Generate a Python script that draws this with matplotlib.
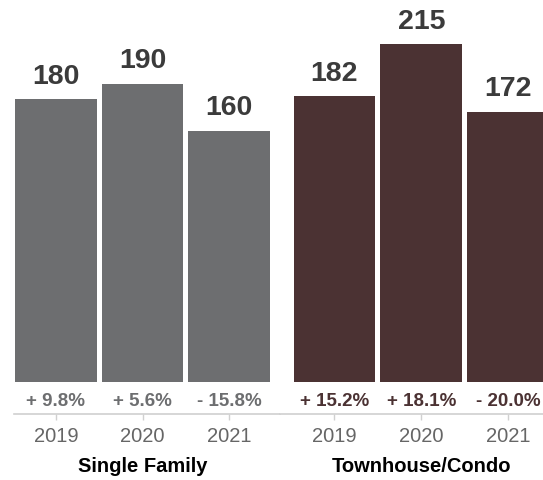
import matplotlib
matplotlib.use("Agg")
from matplotlib import pyplot as plt

plt.rcParams['font.family'] = ['Liberation Sans', 'DejaVu Sans']

years = ["2019", "2020", "2021"]
groups = ["Single Family", "Townhouse/Condo"]
single_family = [180, 190, 160]
townhouse = [182, 215, 172]
single_change = ["+ 9.8%", "+ 5.6%", "- 15.8%"]
townhouse_change = ["+ 15.2%", "+ 18.1%", "- 20.0%"]

bar_colors = ["#6d6e70", "#4b3233"]
values = [single_family, townhouse]
changes = [single_change, townhouse_change]

W, H = 543, 480
fig = plt.figure(figsize=(W / 100, H / 100), dpi=100)

# axes positions in pixels (left, right) and x limits
layout = [((14, 280), (-0.483, 2.586)), ((280, 543), (-0.626, 2.40))]
ymin, ymax = -20.4, 243.3

for i, ((x0, x1), xlim) in enumerate(layout):
    ax = fig.add_axes([x0 / W, (H - 414) / H, (x1 - x0) / W, 414 / H])
    xs = range(len(years))
    ax.bar(xs, values[i], width=0.94, color=bar_colors[i])
    ax.set_xlim(*xlim)
    ax.set_ylim(ymin, ymax)

    for x, v in zip(xs, values[i]):
        ax.annotate(str(v), (x, v), xytext=(0, 7), textcoords="offset points",
                    ha="center", va="bottom", fontsize=20.5, fontweight="bold",
                    color="#3b3b3b")
    for x, c in zip(xs, changes[i]):
        ax.text(x, -12.5, c, ha="center", va="center", fontsize=13.5,
                fontweight="bold", color=bar_colors[i])

    ax.set_xticks(list(xs))
    ax.set_xticklabels(years, fontsize=14.5, color="#666666")
    ax.tick_params(axis="x", length=4, width=1, color="#d0d0d0", pad=5)
    ax.set_yticks([])
    for side in ["left", "right", "top"]:
        ax.spines[side].set_visible(False)
    ax.spines["bottom"].set_color("#d0d0d0")
    ax.spines["bottom"].set_linewidth(1.2)

    ax.annotate(groups[i], (1, 0), xycoords=("data", "axes fraction"),
                xytext=(0, -31), textcoords="offset points", ha="center",
                va="top", fontsize=14.5, fontweight="bold", color="#000000")

fig.savefig("out.png", dpi=100)
